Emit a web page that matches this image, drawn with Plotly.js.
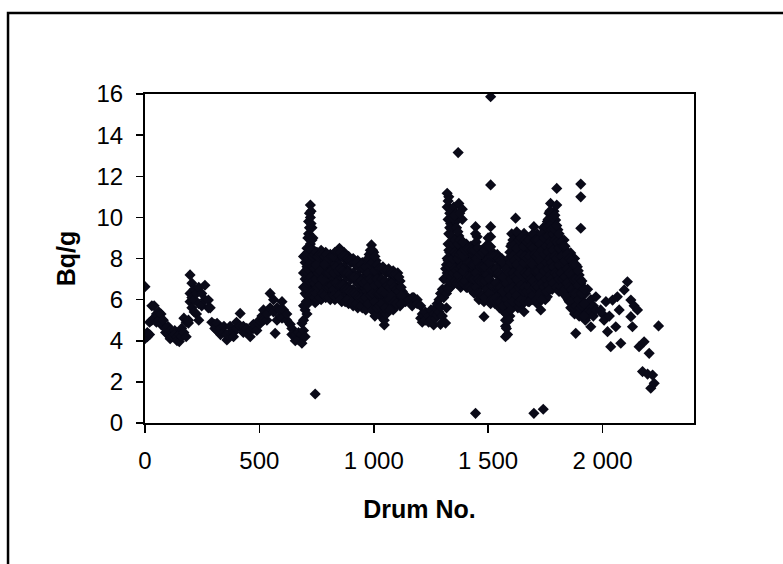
<!DOCTYPE html>
<html>
<head>
<meta charset="utf-8">
<script src="https://cdn.plot.ly/plotly-3.0.1.min.js"></script>
<style>html,body{margin:0;padding:0;background:#fff;}#chart{width:783px;height:564px;}</style>
</head>
<body>
<div id="chart"></div>
<script>
// Drum numbers (columns) and the Bq/g values read at each column, by region
const drumA = [0,10,20,30,40,50,60,70,80,90,100,110,120,130,140,150,160,170,180,190,197,205,215,225,235,248,262,277,285,292,305,315,330,345,358,372,387,400,416,430,445,460,474,489,500,511,518,533,547,562,569,577,590,599,606,620,635,642,657,671,686];
const bqA = [[6.63,4.1],[4.2,4.4],[4.3,4.9],[5.0,5.7],[5.7,5.1],[5.3,4.9],[5.0,5.4],[5.3,4.8],[4.7,5.0],[4.4,4.6],[4.3,4.7],[4.1,4.5],[4.4,4.2],[4.5,4.3],[4.2,4.0],[3.96,4.3],[4.6,4.2],[5.1,4.4],[4.2,4.9],[4.86,5.0],[7.2,6.3,5.9],[6.8,6.1,5.6],[6.5,6.0,5.4],[5.3,6.3],[6.6,5.8,5.0],[6.3,5.7],[6.7,6.0],[5.98,5.6],[5.6],[4.9],[4.8,4.6],[4.85,4.5],[4.6,4.3],[4.4,4.7],[4.04,4.3],[4.7,4.4],[4.4,4.2],[4.6,4.9],[5.33,4.7],[4.7,4.4],[4.4,4.6],[4.2,4.5],[4.6,4.8],[4.85,4.5],[4.8,5.0],[5.2],[5.5,5.0],[5.0,5.3],[6.3,5.6],[6.0,5.4],[4.36],[5.0,5.6],[5.2,5.5],[5.9,5.1],[5.5],[5.0,5.3],[4.8],[4.6,4.3],[4.3,4.0],[4.04,4.4],[3.88,4.85,4.3]];

const drumB = [693,700,708,715,723,730,738,744,752,760,770,780,790,800,810,820,830,840,850,860,870,880,890,900,910,920,930,940,950,960,970,980,990,1000,1010,1020,1030,1040,1046,1055,1065,1075,1085,1095,1105,1115,1125,1139,1155,1168,1175,1190,1205,1212,1225,1240,1250,1262,1270,1277,1285,1292,1300,1306,1314];
const bqB = [[8.1,7.3,6.6,5.7,5.0,4.5],[7.8,7.0,6.3,5.5,4.2],[8.5,7.6,6.9,6.2,5.3],[9.8,9.2,8.0,7.2,6.5],[10.6,10.0,8.7,7.5,6.8,6.0],[9.5,8.9,8.2,7.4,6.6],[8.4,7.8,7.0,6.2],[1.41,8.0,7.2,6.5,5.85],[8.3,7.5,6.8,6.1],[7.9,7.1,6.4],[8.4,7.6,6.9,6.0],[8.0,7.3,6.6],[8.3,7.5,6.8,6.1],[7.9,7.1,6.4],[8.2,7.5,6.8,6.0],[7.8,7.1,6.3],[8.3,7.5,6.7,6.0],[8.0,7.2,6.4],[8.5,7.7,6.9,6.1],[8.1,7.3,6.5,5.9],[8.3,7.6,6.8,6.1],[7.9,7.1,6.3],[8.1,7.4,6.6,5.8],[7.8,7.0,6.2],[8.0,7.3,6.5,5.7],[7.7,6.9,6.1],[7.9,7.2,6.4,5.6],[7.5,6.7,5.9],[7.8,7.0,6.3,5.6],[7.4,6.6,5.9],[7.9,7.1,6.4,5.7],[8.2,7.5,6.7,6.0],[8.66,8.0,7.2,6.4,5.6],[8.3,7.6,6.9,6.1,5.4],[7.9,7.2,6.5,5.8],[7.6,6.9,6.1,5.4],[7.4,6.7,6.0,5.2],[7.6,6.8,6.2,5.5],[4.77,5.0],[7.3,6.6,5.9,5.3],[7.5,6.8,6.1],[7.2,6.5,5.8],[7.4,6.7,6.0,5.5],[7.1,6.4,5.7],[7.3,6.6,6.0],[6.9,6.2,5.7],[6.0,6.4],[6.2,5.9],[6.0],[5.7,6.1],[6.1],[6.0,5.8],[5.7,5.1],[4.9,5.3],[5.0,5.4],[5.2,4.9],[5.5,5.0],[4.77,5.3],[5.6,5.1],[5.26,5.8],[6.0,5.4],[5.66,6.3,4.8],[6.5,5.2],[6.1,7.0],[4.86,7.5]];

// further drums read inside the dense band of the first high block
const drumB2 = [705,712,719,726,734,741,748,756,765,775,785,795,805,815,825,835,845,855,865,875,885,895,905,915,925,935,945,955,965,975,985,995,1005,1015,1025,1035,1050,1060,1070,1080,1090,1100,1110,1120];
const bqB2 = [[8.2,7.4,6.6,5.9],[9.0,8.3,7.5,6.8,5.8],[10.2,9.5,8.5,7.7,6.9,6.2],[10.3,9.7,8.4,7.8,7.1,6.3],[9.0,8.1,7.6,6.9,6.2],[8.2,7.5,6.8,6.1],[8.3,7.7,7.0,6.3],[8.1,7.3,6.6,6.0],[8.2,7.4,6.7,6.1],[8.2,7.0,6.3],[8.1,7.7,6.9,6.2],[8.2,7.3,6.6],[8.0,7.3,6.6,6.1],[8.1,7.4,6.7],[8.1,7.3,6.5,6.2],[8.3,7.6,6.8,6.1],[8.3,7.4,6.7,6.2],[8.3,7.5,6.7,6.0],[8.1,7.4,6.7],[8.1,7.3,6.5,5.9],[8.0,7.3,6.5,6.0],[7.9,7.2,6.4],[7.9,7.1,6.3,5.9],[7.8,7.1,6.3],[7.8,7.0,6.2,5.8],[7.6,6.8,6.1],[7.7,6.9,6.1,5.7],[7.5,6.8,6.0],[7.6,6.9,6.1,5.5],[8.0,7.3,6.6,5.8],[8.4,7.7,7.0,6.2],[8.4,7.8,6.9,6.3,5.5],[8.1,7.4,6.7,5.9,5.2],[7.7,7.0,6.3,5.6],[7.5,6.8,6.3,5.7],[7.5,7.0,6.4,5.8],[7.4,6.9,6.3,5.6],[7.4,6.7,6.0],[7.3,6.6,6.0,5.5],[7.3,6.8,6.2],[7.2,6.6,5.9],[7.2,6.5,5.8],[7.1,6.4],[6.6,6.2,5.8]];

const drumC = [1321,1328,1336,1343,1350,1358,1365,1369,1372,1380,1387,1395,1405,1415,1425,1435,1445,1452,1460,1470,1482,1490,1500,1511,1520,1530,1540,1550,1560,1570,1576,1585,1595,1603,1612,1620,1630,1640,1650,1657,1665,1675,1685,1692,1700,1708,1715,1723,1730,1741,1750,1759,1766,1773,1780,1788,1795,1800,1805,1815,1825,1832,1840,1850,1861,1870,1878,1883,1890,1898,1905,1915,1925,1935,1949,1960,1971];
const bqC = [[11.17,10.5,8.0,7.3,6.6],[11.0,10.5,9.2,8.4,7.7,7.0],[9.7,8.74,8.0,7.3,6.6],[10.3,9.4,7.6,6.9],[10.5,9.9,8.2,7.5,6.8],[10.2,8.6,7.9,7.2],[9.87,8.4,7.6,6.9],[13.15],[10.68,9.1,8.1,7.3],[8.9,8.6,7.8,7.0,6.6],[10.4,9.9,8.3,7.5,6.8],[8.5,7.8,7.1],[8.7,8.0,7.3,6.6],[8.3,7.6,6.9],[8.6,7.9,7.2,6.5],[8.2,7.5,6.8],[9.55,9.2,8.6,7.8,7.1,6.4,0.47],[9.06,8.3,7.5,6.7],[8.0,7.3,6.6,6.0],[8.4,7.7,7.0,6.2],[5.17,8.1,7.4,6.7,5.9],[8.6,7.8,7.0,6.3],[9.0,8.2,7.5,6.8,6.0],[15.87,11.58,9.55,9.06,8.57,7.9,7.2,6.5,5.8],[8.3,7.6,6.8,6.1],[8.0,7.3,6.5,5.8],[8.2,7.4,6.7,6.0],[7.8,7.1,6.3,5.6],[8.0,7.2,6.5,5.8],[7.6,6.9,6.1,5.4],[4.7,4.2,5.0],[7.8,7.1,6.3,5.6,4.3],[8.3,7.5,6.7,5.9,5.2],[9.2,8.7,7.9,7.1,6.4,5.7],[8.4,7.6,6.8,6.1],[9.96,9.0,8.2,7.4,6.6,5.9],[8.7,7.9,7.1,6.3,5.6],[9.1,8.4,7.6,6.8,6.1],[8.8,8.0,7.3,6.5,5.8],[9.22,5.41],[8.5,7.7,6.9,6.2],[9.0,8.2,7.4,6.6,5.9],[8.7,7.9,7.1,6.3],[9.1,8.3,7.5,6.8,6.0],[9.55,8.8,8.0,7.2,6.4,0.47],[8.5,7.7,6.9,6.1],[9.2,8.8,8.1,7.3,6.5,5.8],[8.4,7.6,6.8,6.1],[9.0,8.1,7.3,6.6,5.5],[9.5,8.6,7.8,7.0,6.3,0.67],[9.2,8.3,7.5,6.7,6.0],[9.8,8.9,8.1,7.3,6.14],[10.2,9.4,8.6,7.8,7.0],[10.68,10.0,9.1,8.3,7.5,6.7],[9.7,8.8,8.0,7.2,6.5],[10.3,9.4,8.6,7.8,7.0],[9.87,9.1,8.3,7.5,6.8],[11.41],[9.4,8.7,7.9,7.1],[9.0,8.3,7.5,6.8],[8.6,7.9,7.2,6.5],[8.9,8.2,7.4,6.7],[8.4,7.7,7.0,6.3],[8.1,7.4,6.7,6.0],[8.27,7.6,6.9,6.2,5.6],[7.8,7.1,6.4,5.8],[8.0,7.3,6.6,5.9,5.3],[4.36],[7.6,6.9,6.2,5.5],[7.2,6.5,5.8,5.2],[11.62,11.0,9.47,6.8,6.1,5.5],[6.6,5.9,5.3],[6.3,5.6,5.0],[6.5,5.8,5.2],[4.68,5.4,6.0],[5.2,5.7],[6.14,5.5]];

// further drums read inside the dense band of the second high block
const drumC2 = [1318,1325,1332,1340,1346,1354,1362,1368,1376,1384,1391,1400,1410,1420,1430,1440,1448,1456,1465,1476,1486,1495,1505,1515,1525,1535,1545,1555,1565,1580,1590,1599,1608,1616,1625,1635,1645,1655,1661,1670,1680,1688,1696,1704,1711,1719,1727,1735,1745,1755,1762,1770,1777,1784,1792,1800,1810,1820,1828,1836,1845,1855,1865,1874,1884,1894,1902,1910,1920];
const bqC2 = [[7.7,7.0,6.3,5.6],[10.8,9.9,8.7,7.9,7.2,6.5],[10.2,9.5,8.3,7.6,6.9],[9.1,8.4,7.7,7.1],[10.0,8.7,8.0,7.3],[10.1,8.9,8.3,7.5,6.9],[9.5,8.2,7.4,6.8],[9.3,8.7,8.0,7.2],[10.2,8.9,8.2,7.5,6.8],[8.3,7.6,6.9],[8.8,8.1,7.4,6.8],[8.4,7.6,6.9],[8.5,7.8,7.1,6.6],[8.5,7.8,7.1,6.6],[8.4,7.7,7.0,6.5],[8.4,7.7,7.0,6.3],[8.8,8.0,7.3,6.6],[8.5,7.8,7.0,6.3],[8.2,7.6,6.9,6.3],[8.3,7.6,6.9,6.2],[8.4,7.6,6.9,6.1],[8.6,7.9,7.2,6.5],[8.6,7.8,7.0,6.3],[8.1,7.4,6.7,6.0],[8.1,7.4,6.7,6.0],[8.1,7.5,6.8,6.1],[8.0,7.3,6.6,5.9],[7.9,7.2,6.6,5.9],[7.8,7.1,6.4,5.7],[7.5,6.8,6.0,5.3,4.6],[8.0,7.3,6.5,5.8,5.0],[8.6,7.8,7.0,6.2,5.5],[8.9,8.1,7.3,6.6,5.9],[8.7,7.9,7.1,6.4],[9.3,8.5,7.7,7.0,6.2],[8.9,8.1,7.3,6.6,5.9],[9.0,8.2,7.5,6.7,6.0],[8.6,7.8,7.1,6.4],[8.9,8.1,7.3,6.6,5.9],[8.8,8.0,7.2,6.4],[8.9,8.1,7.3,6.6,5.9],[8.6,7.8,7.0,6.4],[9.2,8.5,7.7,6.9,6.2],[8.9,8.2,7.4,6.6],[8.9,8.1,7.4,6.7,6.0],[8.9,8.2,7.4,6.6],[8.7,7.9,7.1,6.3],[9.2,8.4,7.6,6.8,6.0],[9.0,8.2,7.4,6.6],[9.5,8.6,7.8,7.0,6.4],[9.9,9.1,8.3,7.5,6.7],[10.3,9.6,8.8,8.0,7.2,6.5],[10.2,9.4,8.6,7.8,7.0],[10.0,9.2,8.4,7.6,6.8],[10.1,9.4,8.9,8.1,7.3],[10.6,9.6,8.8,8.0,7.2,6.6],[9.2,8.5,7.7,7.0,6.4],[8.8,8.1,7.3,6.6],[8.6,7.8,7.0,6.3],[8.6,7.9,7.1,6.5],[8.2,7.5,6.8,6.1],[8.0,7.3,6.6,5.9],[7.9,7.2,6.5,5.9],[7.7,7.0,6.3,5.6],[7.7,7.0,6.3,5.7],[7.4,6.7,6.0,5.3],[7.0,6.3,5.6],[6.9,6.3,5.7],[6.5,5.8,5.2]];

const drumD = [1992,2000,2007,2015,2022,2030,2036,2044,2058,2065,2073,2080,2095,2109,2124,2131,2138,2153,2160,2175,2182,2197,2204,2211,2219,2226,2245];
const bqD = [[5.5],[5.3],[5.0],[5.9],[4.44],[5.2],[3.71],[5.98],[4.68],[6.14],[5.5],[3.88],[6.47],[6.87],[5.98,5.17],[4.68],[5.7],[5.5],[3.71],[2.5],[3.95],[2.38],[3.39],[1.69],[2.33],[1.93],[4.72]];

const xTickVals = [0, 500, 1000, 1500, 2000];
const xTickText = ['0', '500', '1 000', '1 500', '2 000'];
const yTickVals = [0, 2, 4, 6, 8, 10, 12, 14, 16];

const xs = [], ys = [];
[[drumA, bqA], [drumB, bqB], [drumB2, bqB2], [drumC, bqC], [drumC2, bqC2], [drumD, bqD]].forEach(function (pair) {
  pair[0].forEach(function (d, i) {
    pair[1][i].forEach(function (v) { xs.push(d); ys.push(v); });
  });
});

const font = 'Arial, "Liberation Sans", Helvetica, sans-serif';

Plotly.newPlot('chart', [{
  type: 'scatter',
  mode: 'markers',
  x: xs,
  y: ys,
  marker: { symbol: 'diamond', size: 8.6, color: '#0a0a18', line: { width: 0 } },
  hoverinfo: 'x+y'
}], {
  width: 783,
  height: 564,
  margin: { l: 145, r: 89, t: 94, b: 141 },
  paper_bgcolor: '#ffffff',
  plot_bgcolor: '#ffffff',
  showlegend: false,
  font: { family: font, color: '#000000', size: 24 },
  xaxis: {
    range: [0, 2400],
    tickvals: xTickVals,
    ticktext: xTickText,
    ticks: 'outside',
    ticklen: 8,
    tickwidth: 1.5,
    tickcolor: '#000',
    showline: true,
    linecolor: '#000',
    linewidth: 2,
    mirror: true,
    showgrid: false,
    zeroline: false,
    tickfont: { family: font, size: 24, color: '#000' },
    ticklabelstandoff: 7,
    title: { text: 'Drum No.', font: { family: font, size: 25, color: '#000', weight: 'bold' }, standoff: 28 },
    fixedrange: true
  },
  yaxis: {
    range: [0, 16],
    tickvals: yTickVals,
    ticks: 'outside',
    ticklen: 7,
    tickwidth: 1.5,
    tickcolor: '#000',
    showline: true,
    linecolor: '#000',
    linewidth: 2,
    mirror: true,
    showgrid: false,
    zeroline: false,
    tickfont: { family: font, size: 24, color: '#000' },
    ticklabelstandoff: 8,
    title: { text: 'Bq/g', font: { family: font, size: 25, color: '#000', weight: 'bold' }, standoff: 14 },
    fixedrange: true
  },
  shapes: [{
    type: 'rect', xref: 'paper', yref: 'paper',
    x0: -0.2495, x1: 1.2, y0: -0.48, y1: 1.2462,
    line: { color: '#000', width: 2.5 },
    fillcolor: 'rgba(0,0,0,0)'
  }]
}, { displayModeBar: false, staticPlot: true });
</script>
</body>
</html>
